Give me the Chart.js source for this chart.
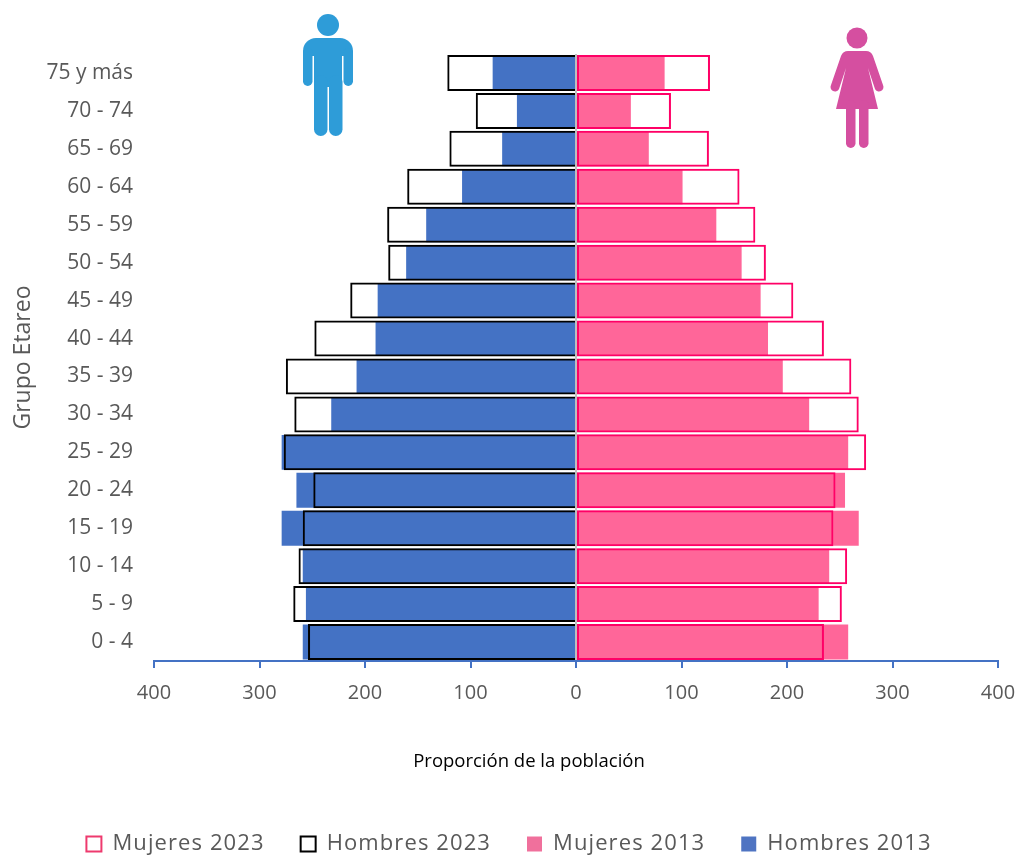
<!DOCTYPE html>
<html><head><meta charset="utf-8">
<style>html,body{margin:0;padding:0;background:#fff}#w{position:relative;width:1018px;height:855px}svg{position:absolute;left:0;top:0;pointer-events:none}</style>
<script src="https://cdn.jsdelivr.net/npm/chart.js@4"></script>
</head><body><div id="w"><canvas id="c" width="1018" height="855"></canvas>
<svg width="1018" height="855">
<g fill="#2E9CD8"><circle cx="328" cy="25" r="11"/>
<path d="M303 56V51A13 13 0 0 1 316 38H340A13 13 0 0 1 353 51V56Z"/>
<rect x="303" y="48" width="9.5" height="38" rx="4.7"/><rect x="343.5" y="48" width="9.5" height="38" rx="4.7"/>
<rect x="314" y="45" width="28" height="42"/><rect x="314" y="75" width="13.5" height="61" rx="6.7"/><rect x="329" y="75" width="13.5" height="61" rx="6.7"/></g>
<g fill="#D54FA0"><circle cx="857" cy="38" r="10.5"/>
<path d="M848 51H866Q871 51 873 56L883 85A4.3 4.3 0 0 1 875 89L868 68L878 109H836L846 68L839 89A4.3 4.3 0 0 1 831 85L841 56Q843 51 848 51Z"/>
<rect x="846" y="100" width="9.5" height="48" rx="4.7"/><rect x="859" y="100" width="9.5" height="48" rx="4.7"/></g>
</svg></div>
<script>
const categories=["75 y más","70 - 74","65 - 69","60 - 64","55 - 59","50 - 54","45 - 49","40 - 44","35 - 39","30 - 34","25 - 29","20 - 24","15 - 19","10 - 14","5 - 9","0 - 4"];
const mujeres2023=[127,90,126,155,170,180,206,235,261,268,275,246,244,257,252,235];
const hombres2023=[-122,-95,-120,-160,-179,-178,-214,-248,-275,-267,-277,-249,-259,-263,-268,-254];
const mujeres2013=[84,52,69,101,133,157,175,182,196,221,258,255,268,240,230,258];
const hombres2013=[-79,-56,-70,-108,-142,-161,-188,-190,-208,-232,-279,-265,-279,-259,-256,-259];
const xTitle="Proporción de la población";
const FONT='"Open Sans"';
const xTitlePlugin={id:'xTitle',
 afterInit(ch){const l=ch.legend,f=l.fit,d=l.draw,g=ch.ctx;
  l.fit=function(){g.letterSpacing='1.1px';f.apply(this,arguments);g.letterSpacing='0px';};
  l.draw=function(){g.save();g.translate(10,0);g.letterSpacing='1.1px';d.apply(this,arguments);g.restore();g.letterSpacing='0px';};},
 afterDraw(ch){const g=ch.ctx;g.save();g.font='18.5px '+FONT;g.fillStyle='#000';g.textAlign='center';g.textBaseline='middle';g.fillText(xTitle,529,762);g.restore();}};
new Chart(document.getElementById('c'),{type:'bar',
data:{labels:categories,datasets:[
{label:'Mujeres 2023',data:mujeres2023,backgroundColor:'rgba(0,0,0,0)',borderColor:'#FF0066',borderWidth:2,borderSkipped:false,grouped:false,barPercentage:0.95},
{label:'Hombres 2023',data:hombres2023,backgroundColor:'rgba(0,0,0,0)',borderColor:'#000',borderWidth:2,borderSkipped:'start',grouped:false,barPercentage:0.95},
{label:'Mujeres 2013',data:mujeres2013,backgroundColor:'#FF6699',borderWidth:0,grouped:false,barPercentage:0.92},
{label:'Hombres 2013',data:hombres2013,backgroundColor:'#4472C4',borderWidth:0,grouped:false,barPercentage:0.92}]},
options:{indexAxis:'y',responsive:false,animation:false,
layout:{padding:{top:54,right:20,left:0,bottom:-10}},
datasets:{bar:{categoryPercentage:1}},
scales:{
x:{type:'linear',min:-400,max:400,afterFit(s){s.height=136;s.paddingRight=0;s.paddingLeft=0;},
 border:{display:true,color:'#4472C4',width:2,z:2},
 grid:{drawOnChartArea:true,z:1,lineWidth:2,tickLength:7,tickColor:'#4472C4',color:c=>c.tick&&c.tick.value===0?'#BFBFBF':'rgba(0,0,0,0)'},
 ticks:{stepSize:100,maxRotation:0,color:'#595959',font:{family:FONT,size:20},padding:13,callback:v=>Math.abs(v)}},
y:{afterFit(s){s.width=154;},
 border:{display:false},grid:{display:false},
 title:{display:true,text:'Grupo Etareo',color:'#595959',font:{family:FONT,size:23},padding:{top:10,bottom:0}},
 ticks:{color:'#595959',font:{family:FONT,size:21},padding:13,autoSkip:false}}},
plugins:{tooltip:{enabled:false},
 legend:{position:'bottom',labels:{boxWidth:15,boxHeight:15,padding:36,color:'#595959',font:{family:FONT,size:22},
  generateLabels(ch){const fill=['#fff','#fff','#F0709C','#4F74C2'],line=['#EE3A6E','#000','#F0709C','#4F74C2'];
   return ch.data.datasets.map((d,i)=>({text:d.label,fillStyle:fill[i],strokeStyle:line[i],lineWidth:i<2?2:0,datasetIndex:i,fontColor:'#595959'}));}}}}},
plugins:[xTitlePlugin]});
</script></body></html>
